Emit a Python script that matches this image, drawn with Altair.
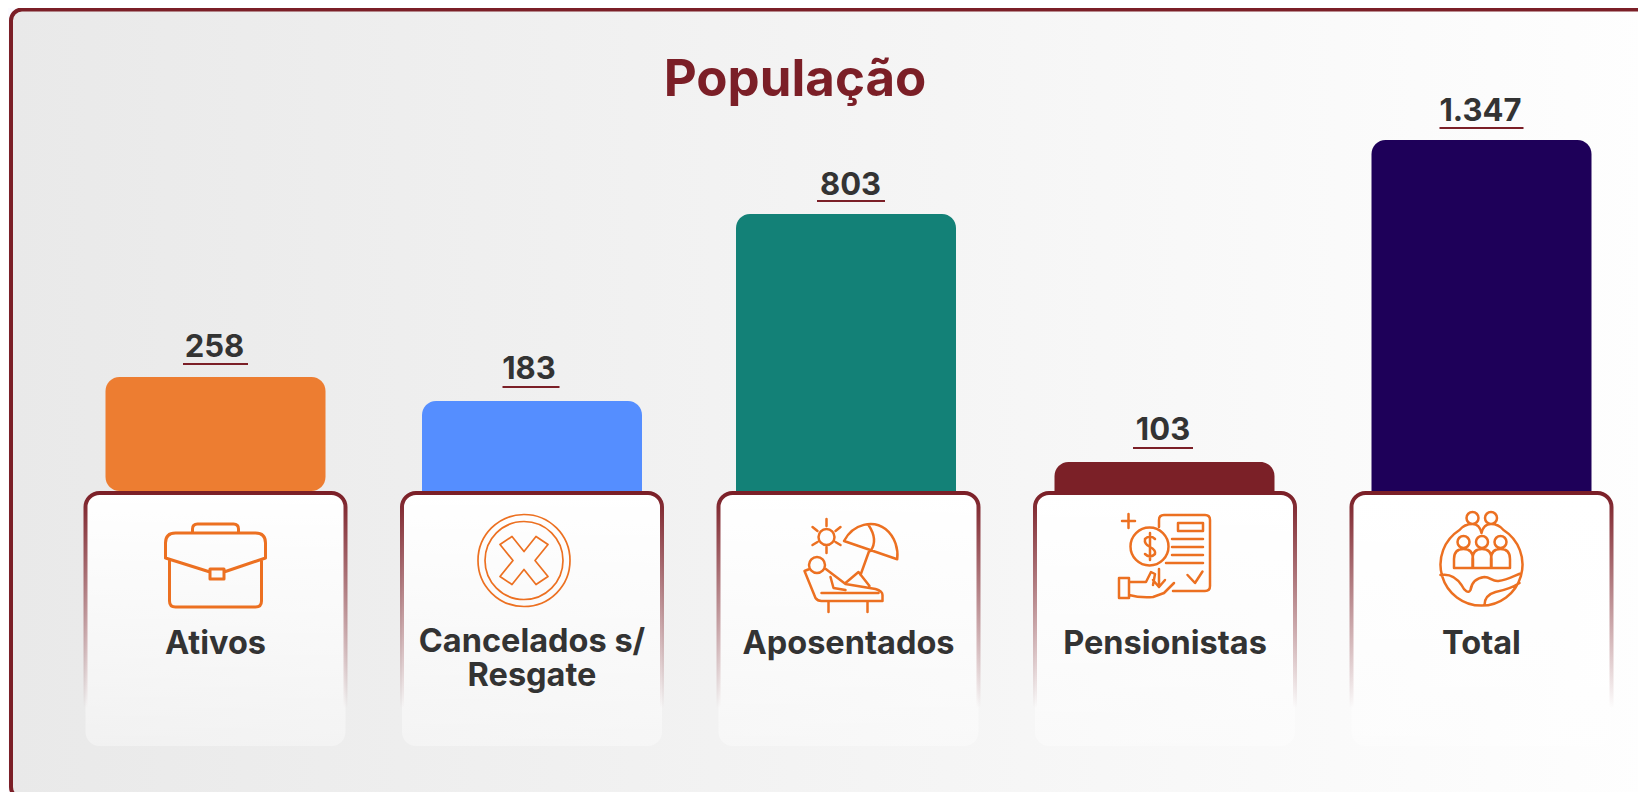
import altair as alt
import pandas as pd

# ---- data ----
categories = ["Ativos", "Cancelados s/\nResgate", "Aposentados", "Pensionistas", "Total"]
values = [258, 183, 803, 103, 1347]
value_labels = ["258", "183", "803", "103", "1.347"]
bar_colors = ["#ED7D31", "#558EFF", "#138177", "#7B2027", "#1E0059"]

# ---- layout (chart pixels; the page margin is 8px) ----
W, H = 1630, 784
BAND_START, BAND_END = 49.25, 1631.75
BAR_W, CARD_W = 220, 260
# the bars in the picture are not proportional to their labels, so the y scale is piecewise
Y_DOMAIN = [0, 103, 183, 258, 803, 1347]
Y_RANGE = [483, 454, 393, 369, 206, 132]
BAR_NUDGE = [0, 0, -2.5, -0.5, 0]
LABEL_NUDGE = [(-1, -20), (-3, -22), (2, -19), (-2, -22), (-1, -19.5)]
RULE_NUDGE = [(0, -13), (-1, -14), (2.5, -13), (-2, -14), (0, -12)]
RULE_LEN = [65, 57, 68, 60, 84]

MAROON = "#7B1F27"
INK = "#333333"
ORANGE = "#EC7021"
FONT = "Inter"

x_enc = alt.X("cat:N", sort=categories, axis=None,
              scale=alt.Scale(type="band", domain=categories,
                              range=[BAND_START, BAND_END], padding=0))
y_enc = alt.Y("val:Q", axis=None, stack=None,
              scale=alt.Scale(domain=Y_DOMAIN, range=Y_RANGE, zero=False, nice=False))

df = pd.DataFrame({"cat": categories, "val": values, "lab": value_labels, "col": bar_colors})
color_enc = alt.Color("col:N", scale=None, legend=None)

# ---- icon outlines, drawn around the centre of each band ----
def circle(cx, cy, r):
    return f"M{cx-r},{cy}A{r},{r} 0 1,0 {cx+r},{cy}A{r},{r} 0 1,0 {cx-r},{cy}Z"

def person(x):
    return f"M{x-9.5},3V-6Q{x-9.5},-16 {x},-16Q{x+9.5},-16 {x+9.5},-6V3Z"

icons = [
    (categories[0], 3, "M-23,-32V-36Q-23,-41 -18,-41H18Q23,-41 23,-36V-32"
        "M-50,-7V-22Q-50,-32 -40,-32H40Q50,-32 50,-22V-7L8.5,7M-5.5,7L-50,-7"
        "M-5.5,4H8.5V14H-5.5Z"
        "M-46,-4V36Q-46,42 -40,42H40Q46,42 46,36V-4"),
    (categories[1], 1.7, circle(-8, -4.5, 46) + circle(-8, -4.5, 39) +
        "M-8,-13.5L4,-28.5L16,-20.5L3,-4.5L16,11.5L4,19.5L-8,4.5L-20,19.5L-32,11.5L-19,-4.5L-32,-20.5L-20,-28.5Z"),
    (categories[2], 2.5, circle(-22, -28, 8) +
        "M-22,-46V-39M-22,-18V-12M-36,-38L-31,-34M-8,-38L-13,-34M-36,-20L-31,-23M-8,-20L-13,-23"
        "M-4.5,-24C5,-42 25,-45 37,-36C47,-28 50,-15 48.7,-5.7Z"
        "M20,-40Q30,-25 22,-14M21,-15L12,10"
        + circle(-31.5, 0, 8) +
        "M-39,4L-44,6L-33,33Q-31,36 -27,36H34V30Q34,26 27,24L-3,19L-24,3"
        "M-3,18L10,7L21,21M-18,12L-15,23L-3,25M-27,28H30"
        "M-20,36V47M19,36V47"),
    (categories[3], 2.5, "M-43,-44H-30M-36.5,-51V-37"
        "M-6,-38V-45Q-6,-50 -1,-50H40Q45,-50 45,-45V21Q45,26 40,26H8"
        "M13,-42H38V-34H13Z"
        "M7,-26H38M7,-18H38M7,-10H38M1,-2H38"
        + circle(-15.5, -18.5, 19) +
        "M-10,-26Q-15,-31 -20,-26Q-21,-21 -15,-18Q-9,-15 -10,-11Q-15,-6 -20,-11M-15,-32V-5"
        "M22.5,10L30,18L37.5,6.5"
        "M-46,13H-36V33H-46Z"
        "M-36,17H-19L-14,7L-10,9L-12,20M-6,4V21M-12,15L-6,22L0,15"
        "M9,18L-1,28L-12,32Q-25,33 -36,30"),
    (categories[4], 2.5, "M-22,-35A41,41 0 1,0 22,-35"
        + circle(-9, -47, 6) + circle(9.5, -47, 6)
        + "M-22,-35Q-17,-41 -9,-41Q-2,-41 0,-32Q2,-41 9.5,-41Q17,-41 22,-35"
        + circle(-18, -23, 6) + circle(0.5, -23, 6) + circle(19, -23, 6)
        + person(-18) + person(0.5) + person(19) +
        "M-41,10C-30,8 -24,14 -20,20C-17,26 -13,29 -11,25C-10,18 -6,13 3,12C9,12 11,17 17,16C26,15 32,11 40,8"
        "M3,40C3,33 7,29 14,27C24,25 32,22 38,18"),
]
icon_df = pd.DataFrame(icons, columns=["cat", "sw", "path"])

# ---- layers ----
panel = alt.Chart(pd.DataFrame({"a": [0]})).mark_rect(
    cornerRadius=11,
    fill=alt.LinearGradient(gradient="linear", x1=0, x2=1, y1=0, y2=0,
                            stops=[alt.GradientStop(offset=0, color="#E9E9E9"),
                                   alt.GradientStop(offset=1, color="#FFFFFF")]),
    stroke=MAROON, strokeWidth=4,
).encode(x=alt.value(3), x2=alt.value(1720), y=alt.value(1.5), y2=alt.value(790))

layers = [panel]

for i in range(len(categories)):
    corners = dict(cornerRadius=14) if i == 0 else dict(cornerRadiusTopLeft=14, cornerRadiusTopRight=14)
    layers.append(alt.Chart(df.iloc[[i]]).mark_bar(width=BAR_W, xOffset=BAR_NUDGE[i], **corners)
                  .encode(x=x_enc, y=y_enc, color=color_enc))

cards = alt.Chart(df).mark_bar(
    width=CARD_W, cornerRadius=14,
    fill=alt.LinearGradient(gradient="linear", x1=0, x2=0, y1=0, y2=1,
                            stops=[alt.GradientStop(offset=0, color="#FFFFFF"),
                                   alt.GradientStop(offset=1, color="rgba(255,255,255,0.35)")]),
    stroke=alt.LinearGradient(gradient="linear", x1=0, x2=0, y1=0, y2=1,
                              stops=[alt.GradientStop(offset=0, color=MAROON),
                                     alt.GradientStop(offset=0.85, color="rgba(123,31,39,0)")]),
    strokeWidth=4,
).encode(x=x_enc, y=alt.value(485), y2=alt.value(738))

icon_marks = alt.Chart(icon_df).mark_point(
    filled=False, size=4, color=ORANGE, opacity=1, strokeJoin="round", strokeCap="round"
).encode(
    x=x_enc, y=alt.value(557),
    shape=alt.Shape("path:N", scale=None, legend=None),
    strokeWidth=alt.StrokeWidth("sw:Q", scale=None, legend=None),
)

title = alt.Chart(pd.DataFrame({"t": ["População"]})).mark_text(
    font=FONT, fontSize=51, fontWeight="bold", color=MAROON, align="center", baseline="alphabetic"
).encode(x=alt.value(787), y=alt.value(88), text="t:N")

layers += [cards, icon_marks, title]

for i in range(len(categories)):
    one = alt.Chart(df.iloc[[i]])
    lx, ly = LABEL_NUDGE[i]
    rx, ry = RULE_NUDGE[i]
    layers.append(one.mark_text(font=FONT, fontSize=31, fontWeight="bold", color=INK,
                                align="center", baseline="alphabetic", dx=lx, dy=ly)
                  .encode(x=x_enc, y=y_enc, text="lab:N"))
    layers.append(one.mark_tick(thickness=2, color=MAROON, opacity=1, xOffset=rx, yOffset=ry)
                  .encode(x=x_enc, y=y_enc, size=alt.value(RULE_LEN[i])))

cat_text = dict(font=FONT, fontSize=32.5, fontWeight="bold", color=INK, align="center",
                baseline="alphabetic", lineBreak="\n", lineHeight=34)
layers.append(alt.Chart(df).transform_filter(f"datum.val != {values[1]}").mark_text(**cat_text)
              .encode(x=x_enc, y=alt.value(646), text="cat:N"))
layers.append(alt.Chart(df).transform_filter(f"datum.val == {values[1]}").mark_text(**cat_text)
              .encode(x=x_enc, y=alt.value(644), text="cat:N"))

chart = alt.layer(*layers).properties(
    width=W, height=H, padding=0, background="#FBFBFF",
    autosize=alt.AutoSizeParams(type="none"),
).configure_view(strokeWidth=0)

chart.save("out.html", embed_options={"renderer": "svg", "actions": False})
